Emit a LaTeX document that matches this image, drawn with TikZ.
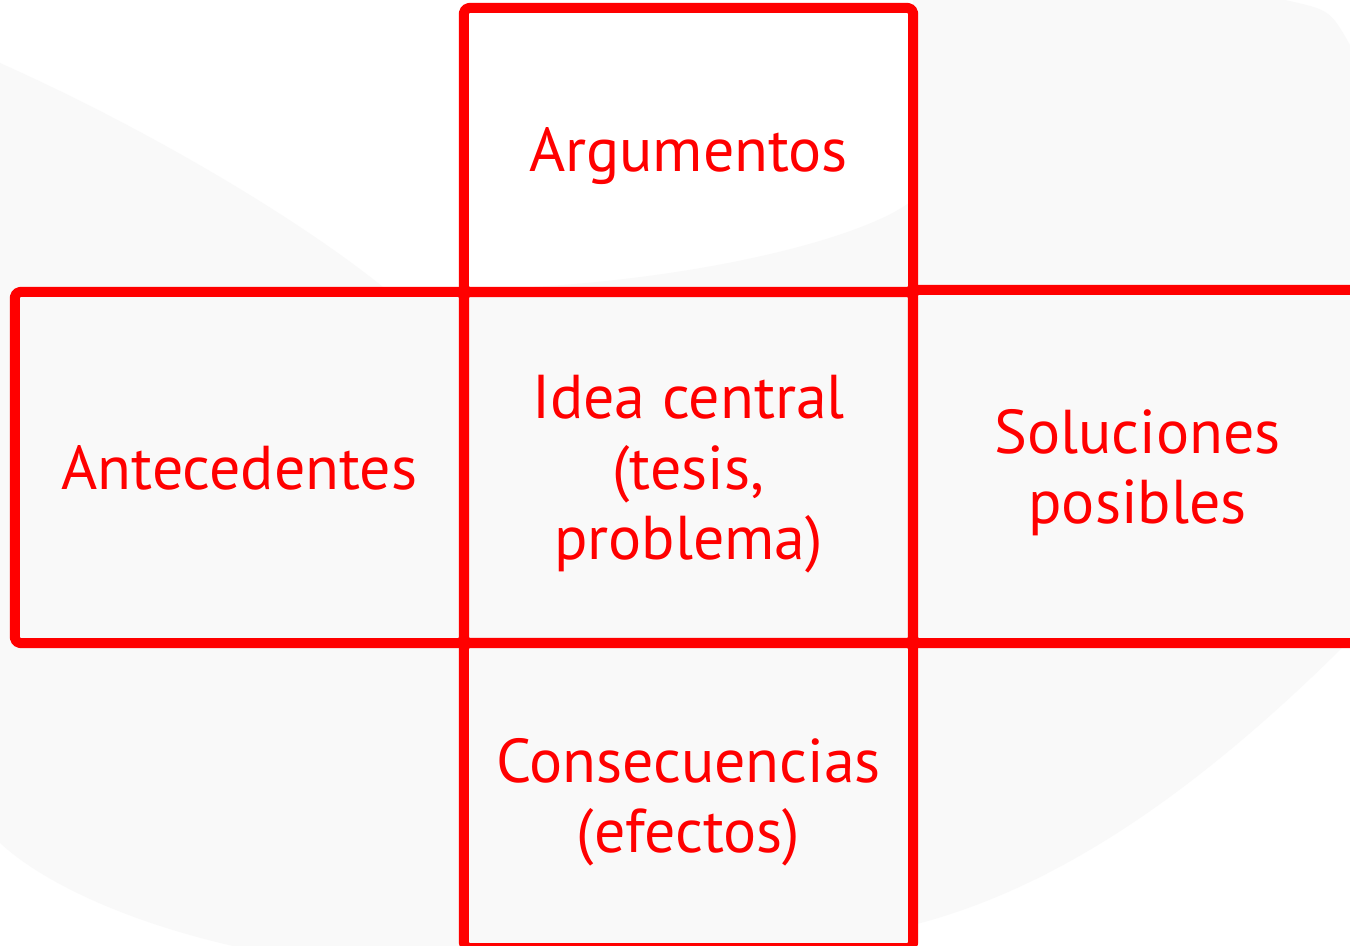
\documentclass[tikz,border=0pt]{standalone}
\usepackage{fontspec}
\setmainfont{PT Sans}
\usetikzlibrary{positioning}
\definecolor{shadow}{gray}{0.976}
\tikzset{
  box/.style={draw=red, line width=2.85pt, rounded corners=1.5pt, line join=round,
    minimum width=4.49cm, align=center, text=red, text depth=0pt,
    font=\fontsize{17.6}{20}\selectfont, inner sep=0pt}
}

\begin{document}
\begin{tikzpicture}[x=0.01cm, y=-0.01cm]
        \clip (0,0) rectangle (1350,946);
        \fill[white] (0,0) rectangle (1350,946);
        % faint background swirl
        \fill[shadow] (913,0) -- (1285,0) .. controls (1330,10) .. (1350,45)
          -- (1350,640) .. controls (1190,800) and (1050,890) .. (913,925)
          -- (913,946) -- (233,946) .. controls (120,920) and (40,880) .. (0,843)
          -- (0,63) .. controls (150,130) and (300,220) .. (383,287)
          .. controls (600,300) and (850,250) .. (913,200) -- cycle;
        % boxes
        \node[box, minimum height=2.84cm] (arg) at (688.5,150) {Argumentos};
        \node[box, minimum height=3.51cm] (ante) at (239.5,467.5) {Antecedentes};
        \node[box, minimum height=3.51cm] (idea) at (688.5,467.5) {Idea central\\(tesis,\\problema)};
        \node[box, minimum height=3.53cm] (sol) at (1137.5,466.5) {Soluciones\\posibles};
        \node[box, minimum height=3.05cm] (cons) at (688.5,795.5) {Consecuencias\\(efectos)};
\end{tikzpicture}
\end{document}
